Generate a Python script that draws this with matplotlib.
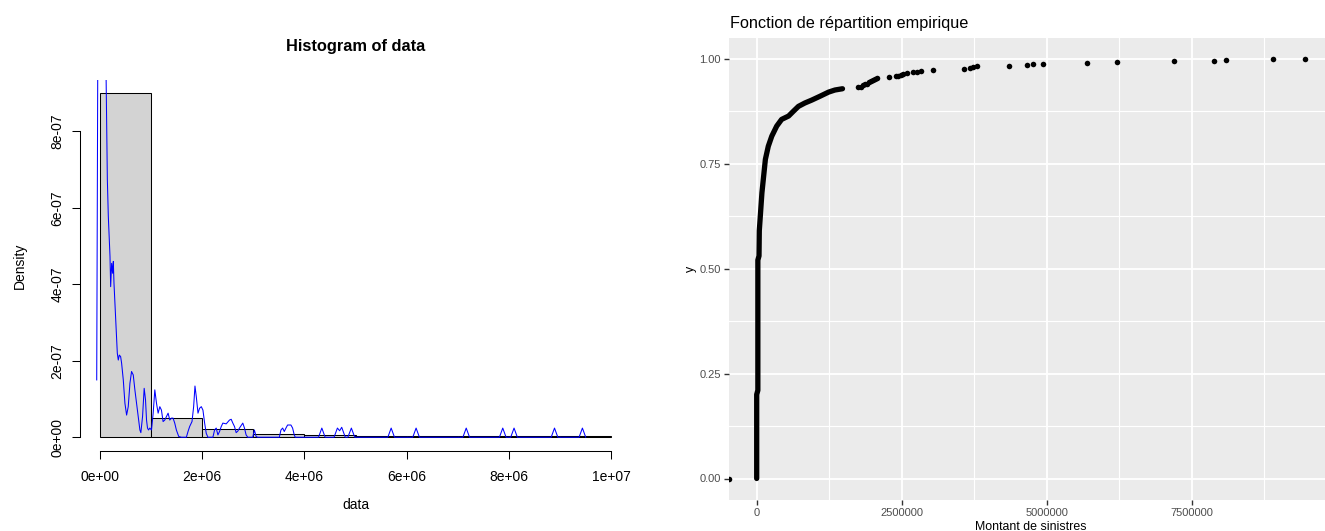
import numpy as np
import matplotlib
matplotlib.use("Agg")
import matplotlib.pyplot as plt

plt.rcParams['font.family'] = ['Liberation Sans', 'DejaVu Sans']

# =============================================================================
# DATA
# =============================================================================

# histogram of data, density scale (heights in 1e-7)
bin_edges = [0, 1e6, 2e6, 3e6, 4e6, 5e6, 6e6, 7e6, 8e6, 9e6, 1e7]
bin_density = [9.0, 0.50, 0.21, 0.08, 0.07, 0.02, 0.02, 0.04, 0.04, 0.02]

# kernel density curve drawn over it (x in millions, y in 1e-7)
dens_x = [-0.065, -0.058, -0.045, 0.03, 0.117, 0.130, 0.143, 0.162, 0.195, 0.208,
          0.227, 0.247, 0.260, 0.273, 0.292, 0.312, 0.338, 0.357, 0.377, 0.403,
          0.422, 0.455, 0.487, 0.520, 0.552, 0.585, 0.617, 0.650, 0.682, 0.715,
          0.747, 0.780, 0.799, 0.832, 0.864, 0.890, 0.910, 0.929, 0.949, 0.975,
          1.007, 1.040, 1.072, 1.105, 1.137, 1.170, 1.202, 1.234, 1.267, 1.300,
          1.332, 1.365, 1.397, 1.429, 1.462, 1.494, 1.540, 1.592, 1.690, 1.722,
          1.754, 1.800, 1.832, 1.858, 1.884, 1.917, 1.949, 1.982, 2.014, 2.047,
          2.079, 2.112, 2.209, 2.242, 2.274, 2.307, 2.339, 2.372, 2.404, 2.469,
          2.534, 2.567, 2.599, 2.632, 2.664, 2.697, 2.729, 2.794, 2.827, 2.859,
          2.892, 2.989, 3.021, 3.054, 3.086, 3.509, 3.541, 3.574, 3.606, 3.639,
          3.671, 3.736, 3.769, 3.801, 3.821, 4.276, 4.341, 4.406, 4.580, 4.646,
          4.690, 4.730, 4.800, 4.850, 4.919, 4.985, 5.633, 5.698, 5.763, 6.121,
          6.186, 6.251, 7.102, 7.167, 7.232, 7.817, 7.882, 7.947, 8.038, 8.103,
          8.168, 8.830, 8.895, 8.960, 9.376, 9.441, 9.506]
dens_y = [1.50, 4.67, 9.60, 14.0, 9.60, 8.13, 6.74, 5.78, 4.73, 3.94,
          4.55, 4.29, 4.60, 4.03, 3.51, 2.98, 2.20, 2.02, 2.15, 2.11,
          1.94, 1.50, 0.89, 0.58, 0.80, 1.41, 1.72, 1.63, 1.24, 0.89,
          0.54, 0.19, 0.12, 0.54, 1.28, 0.98, 0.45, 0.24, 0.19, 0.24,
          0.19, 0.63, 1.24, 0.89, 0.63, 0.80, 0.71, 0.41, 0.45, 0.54,
          0.63, 0.45, 0.50, 0.50, 0.37, 0.19, 0.02, 0.0, 0.0, 0.15,
          0.28, 0.41, 0.80, 1.34, 1.06, 0.63, 0.76, 0.80, 0.71, 0.37,
          0.10, 0.0, 0.0, 0.19, 0.24, 0.06, 0.15, 0.28, 0.37, 0.35,
          0.45, 0.47, 0.37, 0.28, 0.12, 0.16, 0.24, 0.37, 0.24, 0.06,
          0.0, 0.0, 0.19, 0.02, 0.0, 0.0, 0.19, 0.24, 0.15, 0.24,
          0.32, 0.32, 0.24, 0.06, 0.0, 0.0, 0.24, 0.0, 0.0, 0.24,
          0.17, 0.26, 0.0, 0.0, 0.24, 0.0, 0.0, 0.24, 0.0, 0.0,
          0.24, 0.0, 0.0, 0.24, 0.0, 0.0, 0.24, 0.0, 0.0, 0.24,
          0.0, 0.0, 0.24, 0.0, 0.0, 0.24, 0.0]

# empirical CDF: dense part near zero (x in millions)
ecdf_line_x = [0.0, 0.0, 0.02, 0.02, 0.04, 0.045, 0.09, 0.15, 0.20, 0.26, 0.345,
               0.43, 0.55, 0.63, 0.72, 0.83, 0.95, 1.09, 1.24, 1.35, 1.48]
ecdf_line_y = [0.0, 0.20, 0.21, 0.52, 0.53, 0.59, 0.68, 0.76, 0.791, 0.815, 0.839,
               0.855, 0.863, 0.874, 0.886, 0.894, 0.901, 0.910, 0.920, 0.925, 0.928]

# empirical CDF: separate points in the tail (x in millions)
ecdf_pts_x = [1.752, 1.793, 1.838, 1.867, 1.896, 1.931, 1.965, 2.000, 2.040, 2.068,
              2.287, 2.402, 2.442, 2.482, 2.528, 2.597, 2.701, 2.758, 2.833, 3.045,
              3.574, 3.678, 3.735, 3.793, 4.345, 4.67, 4.76, 4.94, 5.70, 6.21,
              7.19, 7.88, 8.10, 8.91, 9.45]
ecdf_pts_y = [0.932, 0.9325, 0.936, 0.939, 0.940, 0.943, 0.946, 0.948, 0.952, 0.953,
              0.955, 0.958, 0.9595, 0.961, 0.963, 0.966, 0.967, 0.969, 0.971, 0.972,
              0.975, 0.977, 0.979, 0.981, 0.983, 0.985, 0.987, 0.988, 0.990, 0.992,
              0.993, 0.995, 0.997, 0.998, 1.0]

hist_xticks = [0, 2e6, 4e6, 6e6, 8e6, 1e7]
hist_xlabels = ["0e+00", "2e+06", "4e+06", "6e+06", "8e+06", "1e+07"]
hist_yticks = [0, 2e-7, 4e-7, 6e-7, 8e-7]
hist_ylabels = ["0e+00", "2e-07", "4e-07", "6e-07", "8e-07"]

ecdf_xticks = [0, 2.5e6, 5e6, 7.5e6]
ecdf_xlabels = ["0", "2500000", "5000000", "7500000"]
ecdf_yticks = [0, 0.25, 0.5, 0.75, 1.0]
ecdf_ylabels = ["0.00", "0.25", "0.50", "0.75", "1.00"]

# =============================================================================
# FIGURE
# =============================================================================

W, H = 1325, 531
fig = plt.figure(figsize=(W / 100, H / 100), dpi=100)

# ---- left : base R histogram ----
ax1 = fig.add_axes([79.6 / W, 1 - 451 / H, 551.8 / W, 371.5 / H])
edges = np.array(bin_edges)
ax1.bar(edges[:-1], np.array(bin_density) * 1e-7, width=np.diff(edges), align='edge',
        color='#D3D3D3', edgecolor='black', linewidth=0.75)
ax1.plot(np.array(dens_x) * 1e6, np.array(dens_y) * 1e-7, color='#0000FF', lw=0.75)
ax1.set_xlim(-0.4e6, 10.4e6)
ax1.set_ylim(-0.36e-7, 9.36e-7)
for s in ['top', 'right']:
    ax1.spines[s].set_visible(False)
ax1.spines['left'].set_bounds(0, 8e-7)
ax1.spines['bottom'].set_bounds(0, 1e7)
for s in ['left', 'bottom']:
    ax1.spines[s].set_linewidth(0.75)
ax1.set_xticks(hist_xticks)
ax1.set_xticklabels(hist_xlabels)
ax1.set_yticks(hist_yticks)
ax1.set_yticklabels(hist_ylabels, rotation=90, va='center')
ax1.tick_params(axis='both', direction='out', length=6, width=0.75, labelsize=10)
ax1.tick_params(axis='x', pad=7.5)
ax1.tick_params(axis='y', pad=5)

fig.text(355.5 / W, 1 - 51 / H, "Histogram of data", ha='center', va='baseline',
         fontsize=11.8, fontweight='bold')
fig.text(355.5 / W, 1 - 505 / H, "data", ha='center', va='center', fontsize=10)
fig.text(20 / W, 1 - 265.5 / H, "Density", ha='center', va='center', rotation=90,
         fontsize=10)

# ---- right : ggplot empirical CDF ----
ax2 = fig.add_axes([729.3 / W, 1 - 499.5 / H, 602.7 / W, 462 / H])
ax2.set_facecolor('#EBEBEB')
xmin, xmax = -0.4725e6, 9.9225e6
ax2.plot(np.array(ecdf_line_x) * 1e6, ecdf_line_y, color='black', lw=3.8,
         solid_capstyle='round', solid_joinstyle='round', zorder=3)
ax2.scatter(np.array(ecdf_pts_x) * 1e6, ecdf_pts_y, s=16, color='black',
            linewidths=0, zorder=3)
ax2.scatter([xmin], [0.0], s=16, color='black', linewidths=0, zorder=3)
ax2.set_xlim(xmin, xmax)
ax2.set_ylim(-0.05, 1.05)
for s in ax2.spines.values():
    s.set_visible(False)
ax2.set_xticks(ecdf_xticks)
ax2.set_xticklabels(ecdf_xlabels)
ax2.set_yticks(ecdf_yticks)
ax2.set_yticklabels(ecdf_ylabels)
ax2.set_xticks([1.25e6, 3.75e6, 6.25e6, 8.75e6], minor=True)
ax2.set_yticks([0.125, 0.375, 0.625, 0.875], minor=True)
ax2.tick_params(which='major', length=3.8, width=1.0, color='#333333',
                labelcolor='#4D4D4D', labelsize=8, pad=2.2)
ax2.tick_params(which='minor', length=0)
ax2.grid(which='major', color='white', lw=1.3)
ax2.grid(which='minor', color='white', lw=0.8)
ax2.set_axisbelow(True)

fig.text(730 / W, 1 - 28.3 / H, "Fonction de répartition empirique", ha='left',
         va='baseline', fontsize=11.7)
fig.text(1030.7 / W, 1.2 / H, "Montant de sinistres", ha='center', va='baseline',
         fontsize=8.9)
fig.text(691 / W, 1 - 268.5 / H, "y", ha='center', va='center', rotation=90,
         fontsize=8.9)

fig.savefig("out.png", dpi=100)
